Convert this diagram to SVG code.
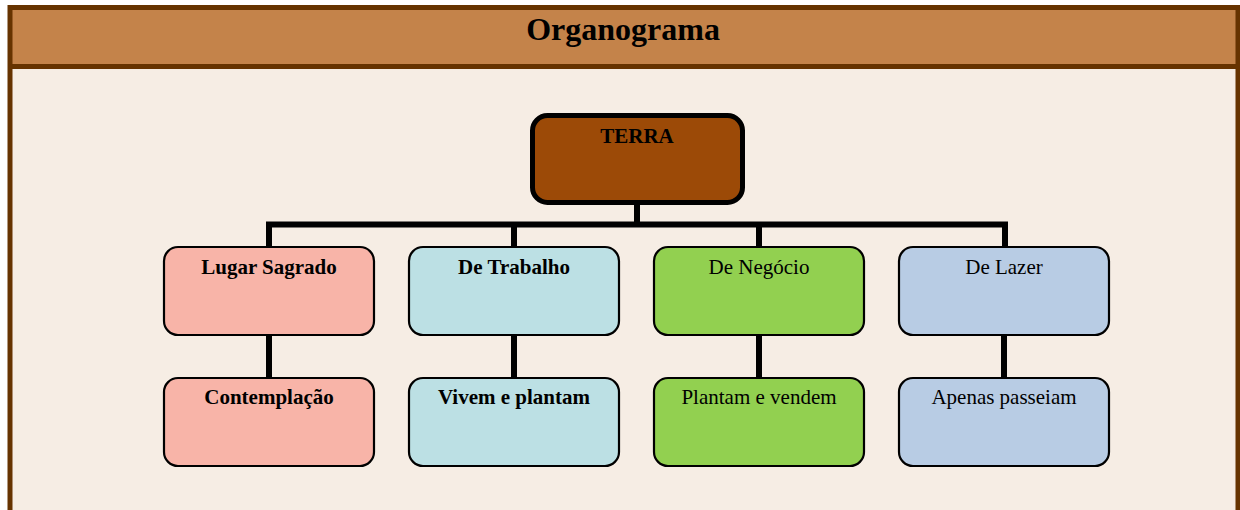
<svg xmlns="http://www.w3.org/2000/svg" width="1240" height="510" viewBox="0 0 1240 510">
<style>
.box{stroke:#000;stroke-width:2.2}
.t{font-family:"Liberation Serif",serif;font-size:21px;text-anchor:middle;fill:#000}
.b{font-weight:bold}
.con{stroke:#000;stroke-width:6;fill:none}
</style>
<rect x="0" y="0" width="1240" height="510" fill="#fff"/>
<rect x="10" y="10" width="1228" height="510" fill="#F6EDE4"/>
<rect x="10" y="10" width="1228" height="56" fill="#C4834A"/>
<path d="M10,510 V7.5 H1238 V510" fill="none" stroke="#663300" stroke-width="5"/>
<line x1="10" y1="66.5" x2="1238" y2="66.5" stroke="#663300" stroke-width="5"/>
<text x="623" y="40" font-family="Liberation Serif,serif" font-size="32" font-weight="bold" text-anchor="middle">Organograma</text>
<g id="connectors">
<path class="con" d="M637,203 V224.5 M269,246 V224.5 H1005 V246 M514,224.5 V246 M759,224.5 V246"/>
<path class="con" d="M269,335 V378 M514,335 V378 M759,335 V378 M1004,335 V378"/>
</g>
<g id="terra">
<rect x="532.5" y="115.5" width="210" height="87" rx="15" fill="#9C4A07" stroke="#000" stroke-width="5"/>
<text class="t b" x="637" y="143">TERRA</text>
</g>
<g id="lugar">
<rect class="box" x="164" y="247" width="210" height="88" rx="14" fill="#F8B4A8"/>
<text class="t b" x="269" y="274">Lugar Sagrado</text>
</g>
<g id="trabalho">
<rect class="box" x="409" y="247" width="210" height="88" rx="14" fill="#BCE0E4"/>
<text class="t b" x="514" y="274">De Trabalho</text>
</g>
<g id="negocio">
<rect class="box" x="654" y="247" width="210" height="88" rx="14" fill="#92D050"/>
<text class="t" x="759" y="274">De Negócio</text>
</g>
<g id="lazer">
<rect class="box" x="899" y="247" width="210" height="88" rx="14" fill="#B8CCE4"/>
<text class="t" x="1004" y="274">De Lazer</text>
</g>
<g id="contemplacao">
<rect class="box" x="164" y="378" width="210" height="88" rx="14" fill="#F8B4A8"/>
<text class="t b" x="269" y="404">Contemplação</text>
</g>
<g id="vivem">
<rect class="box" x="409" y="378" width="210" height="88" rx="14" fill="#BCE0E4"/>
<text class="t b" x="514" y="404">Vivem e plantam</text>
</g>
<g id="plantam">
<rect class="box" x="654" y="378" width="210" height="88" rx="14" fill="#92D050"/>
<text class="t" x="759" y="404">Plantam e vendem</text>
</g>
<g id="apenas">
<rect class="box" x="899" y="378" width="210" height="88" rx="14" fill="#B8CCE4"/>
<text class="t" x="1004" y="404">Apenas passeiam</text>
</g>
</svg>
